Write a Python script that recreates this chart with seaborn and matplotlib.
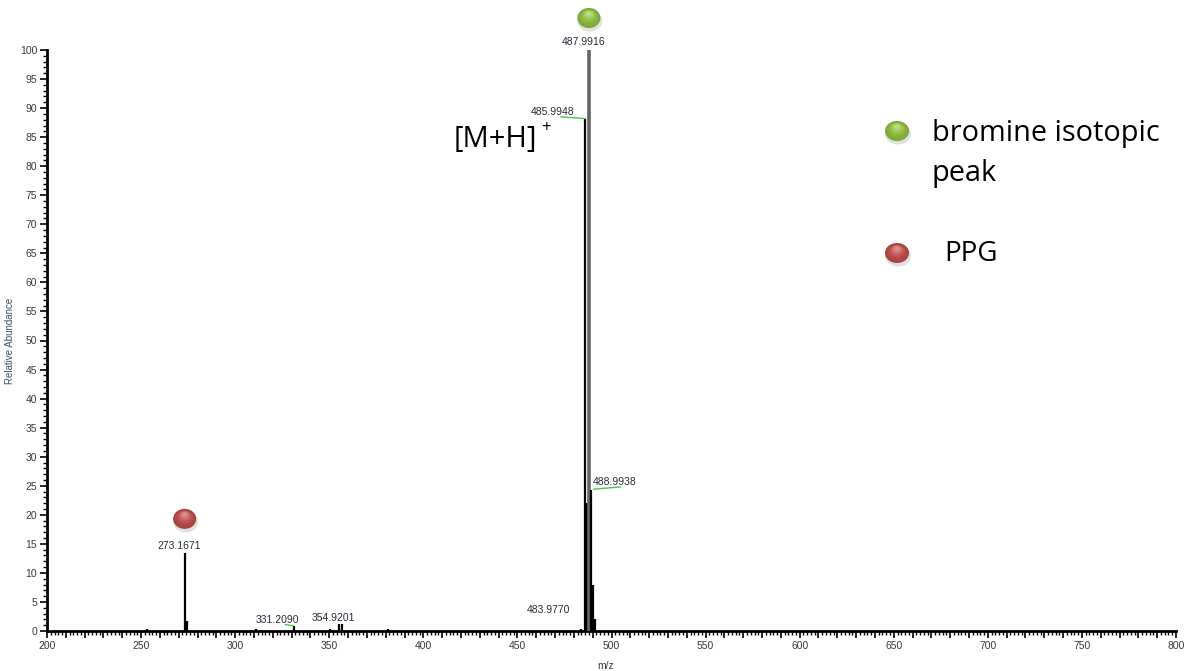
import numpy as np
import matplotlib
matplotlib.use("Agg")
import matplotlib.pyplot as plt
import seaborn as sns
from matplotlib.patches import Ellipse
from matplotlib.colors import to_rgb
from matplotlib.ticker import MultipleLocator, FuncFormatter

# Centroid peaks of the spectrum (m/z, relative abundance %)
peak_mz = [253.1, 273.1671, 274.17, 311.2, 331.2090, 350.3, 354.9201, 356.92,
           381.0, 483.9770, 485.9948, 486.9982, 487.9916, 488.9938, 489.9955, 490.995]
peak_int = [0.4, 13.4, 1.8, 0.4, 0.9, 0.4, 1.2, 1.2,
            0.3, 0.3, 88.2, 22.0, 100.0, 24.3, 7.9, 2.0]

# Peaks that carry an m/z label: value, label x, label y
label_mz = [273.1671, 331.2090, 354.9201, 483.9770, 485.9948, 487.9916, 488.9938]
label_x = [270.0, 322.3, 352.0, 466.5, 468.9, 485.2, 490.2]
label_y = [14.6, 1.9, 2.2, 3.7, 89.4, 101.3, 25.7]
label_ha = ["center", "center", "center", "center", "center", "center", "left"]

legend_names = ["bromine isotopic", "peak", "PPG"]
green_ball = "#96c940"
red_ball = "#c9504c"

sns.set_theme(style="ticks")
plt.rcParams["font.family"] = ["Liberation Sans", "DejaVu Sans"]

W, H = 1186, 671
fig = plt.figure(figsize=(W / 100, H / 100), dpi=100)
ax = fig.add_axes([47 / W, 40 / H, 1129 / W, 581 / H])

colors = ["#666666" if v >= 99 else "black" for v in peak_int]
widths = [2.6 if v >= 99 else 1.6 for v in peak_int]
ax.vlines(peak_mz, 0, peak_int, colors=colors, linewidths=widths, zorder=3)

ax.set_xlim(200, 800)
ax.set_ylim(0, 100)
ax.xaxis.set_major_locator(MultipleLocator(10))
ax.xaxis.set_minor_locator(MultipleLocator(2))
ax.xaxis.set_major_formatter(FuncFormatter(lambda v, p: f"{v:.0f}" if round(v) % 50 == 0 else ""))
ax.yaxis.set_major_locator(MultipleLocator(5))
ax.yaxis.set_minor_locator(MultipleLocator(1))
ax.tick_params(axis="both", which="major", length=5, width=1.2, color="black",
               labelsize=7.5, labelcolor="#3a3a3a", pad=2)
ax.tick_params(axis="both", which="minor", length=3, width=1.0, color="black")
for side in ("top", "right"):
    ax.spines[side].set_visible(False)
for side in ("left", "bottom"):
    ax.spines[side].set_linewidth(2)
    ax.spines[side].set_color("black")
ax.set_ylabel("Relative Abundance", fontsize=7, color="#3a4a6a")
ax.yaxis.set_label_coords(-0.0283, 0.5)
ax.set_xlabel("m/z", fontsize=7.5, color="#3a3a3a")
ax.xaxis.set_label_coords(0.495, -0.052)
ax.patch.set_alpha(0)

# m/z labels on the peaks
for mz, lx, ly, ha in zip(label_mz, label_x, label_y, label_ha):
    ax.text(lx, ly, f"{mz:.4f}", ha=ha, va="center", fontsize=7.5,
            color="#2a2a3a", clip_on=False, zorder=4)

# green leader lines joining labels to their peaks
ax.plot([473.0, 485.9948], [88.5, 88.2], color="#4cc44c", lw=1.0, zorder=4)
ax.plot([490.4, 504.8], [24.4, 24.8], color="#4cc44c", lw=1.0, zorder=4)
ax.plot([326.6, 331.2090], [1.1, 0.9], color="#4cc44c", lw=1.0, zorder=4)

# overlay in pixel coordinates for markers and annotations
ov = fig.add_axes([0, 0, 1, 1], zorder=5)
ov.set_xlim(0, W)
ov.set_ylim(H, 0)
ov.axis("off")
ov.patch.set_alpha(0)


def to_px(x, y):
    dx, dy = ax.transData.transform((x, y))
    return dx, H - dy


def ball(cx, cy, color, w=23, h=20):
    base = np.array(to_rgb(color))
    ov.add_patch(Ellipse((cx + 1, cy + 3), w + 2, h + 1, color="black", alpha=0.12, lw=0))
    ov.add_patch(Ellipse((cx, cy), w, h, color=base * 0.82, lw=0))
    n = 8
    for i in range(n):
        t = i / (n - 1)
        c = base * (0.85 + 0.15 * t) + (1 - base) * 0.35 * t ** 2
        c = np.clip(c, 0, 1)
        s = 1 - 0.75 * t
        ov.add_patch(Ellipse((cx, cy - h * 0.22 * t), w * s * 0.95, h * s * 0.9, color=c, lw=0))


gx, _ = to_px(487.9916, 100)
ball(gx, 18, green_ball)
rx, ry = to_px(273.1671, 19.3)
ball(rx, ry, red_ball)

big_font = ["Open Sans", "DejaVu Sans"]

# [M+H]+ annotation
ov.text(454, 139, "[M+H]", fontsize=21, family=big_font,
        color="black", ha="left", va="center")
ov.text(541, 128, "+", fontsize=12, family=big_font,
        color="black", ha="left", va="center")

# legend
ball(897, 131, green_ball, w=24, h=20)
ball(897, 253, red_ball, w=24, h=20)
ov.text(932, 134, legend_names[0], fontsize=20.8, family=big_font,
        color="black", ha="left", va="center")
ov.text(932, 173, legend_names[1], fontsize=20.8, family=big_font,
        color="black", ha="left", va="center")
ov.text(944, 254, legend_names[2], fontsize=20, family=big_font,
        color="black", ha="left", va="center")

fig.savefig("out.png", dpi=100, facecolor="white")
